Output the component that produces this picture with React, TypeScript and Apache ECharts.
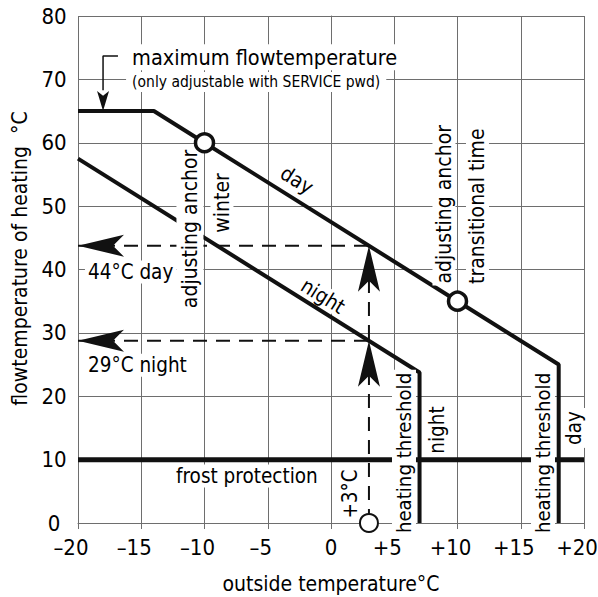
import React, { useEffect, useRef } from "react";
import * as echarts from "echarts";

const FONT = "'Liberation Sans Narrow', 'DejaVu Sans Condensed', 'DejaVu Sans', sans-serif";
const INK = "#111111";
const TEXT = "#000000";
const GRID = "#6e6e6e";

// curves (outside temperature °C -> flow temperature °C)
const dayOutside = [-20, -14, -10, 10, 18, 18];
const dayFlow = [65, 65, 60, 35, 25, 0];
const nightOutside = [-20, 7, 7];
const nightFlow = [57.5, 23.75, 0];
const frostOutside = [-20, 20];
const frostFlow = [10, 10];
const anchorOutside = [-10, 10];
const anchorFlow = [60, 35];
// worked example
const exampleOutside = 3;
const exampleDay = 43.75;
const exampleNight = 28.75;
// maximum flow temperature marker
const maxMarkerOutside = -18.02;
const maxMarkerFlow = [73.7, 68.3];
const maxFlow = 65;

type Note = {
  text: string;
  at: [number, number];
  rotate?: number;
  size: number;
  align?: "left" | "center";
  pad?: number | number[];
};
const notes: Note[] = [
  { text: "maximum flowtemperature", at: [-16.2, 73.5], size: 21.5, align: "left", pad: [2, 6] },
  { text: "(only adjustable with SERVICE pwd)", at: [-16.2, 69.6], size: 15.5, align: "left", pad: [2, 6] },
  { text: "day", at: [-2.69, 54.1], rotate: -32, size: 20.5, pad: 0 },
  { text: "night", at: [-0.63, 35.8], rotate: -32, size: 20.5, pad: 0 },
  { text: "adjusting anchor", at: [-11.15, 46.4], rotate: 90, size: 21, pad: [3, 2] },
  { text: "winter", at: [-8.62, 50.5], rotate: 90, size: 21, pad: [1, 3] },
  { text: "adjusting anchor", at: [8.93, 50.3], rotate: 90, size: 21, pad: [1, 2] },
  { text: "transitional time", at: [11.58, 50.0], rotate: 90, size: 21, pad: [1, 3] },
  { text: "44°C day", at: [-19.45, 39.6], size: 20.5, align: "left", pad: [1, 3] },
  { text: "29°C night", at: [-19.45, 24.9], size: 20.5, align: "left", pad: [1, 3] },
  { text: "frost protection", at: [-12.49, 7.4], size: 20.5, align: "left", pad: [1, 3] },
  { text: "+3°C", at: [1.5, 4.58], rotate: 90, size: 20.5, pad: [1, 3] },
  { text: "heating threshold", at: [5.77, 11.05], rotate: 90, size: 20.2, pad: [2, 3] },
  { text: "night", at: [8.38, 14.67], rotate: 90, size: 20.5, pad: [1, 3] },
  { text: "heating threshold", at: [16.76, 11.05], rotate: 90, size: 20.2, pad: [2, 3] },
  { text: "day", at: [19.2, 15.0], rotate: 90, size: 20.5, pad: [1, 3] },
];

const zip = (xs: number[], ys: number[]) => xs.map((x, i) => [x, ys[i]]);
const ARROW = "path://M12,0L24,46L12,35L0,46Z";

export default function App() {
  const ref = useRef<HTMLDivElement>(null);
  useEffect(() => {
    if (!ref.current) return;
    const chart = echarts.init(ref.current, undefined, { renderer: "svg" });
    const lineBase = { type: "line", symbol: "none", silent: true, z: 3 } as any;
    const dashed = { color: INK, width: 2, type: [14, 9] };
    chart.setOption({
      animation: false,
      backgroundColor: "#fff",
      grid: { left: 78, right: 14, top: 16, bottom: 74, outerBoundsMode: "none", containLabel: false },
      xAxis: {
        type: "value",
        min: -20,
        max: 20,
        interval: 5,
        name: "outside temperature°C",
        nameLocation: "middle",
        nameGap: 50,
        nameTextStyle: { fontFamily: FONT, fontSize: 21, color: TEXT },
        axisLine: { show: true, lineStyle: { color: GRID, width: 1 } },
        axisTick: { show: true, length: 6, lineStyle: { color: GRID } },
        splitLine: { show: true, lineStyle: { color: GRID, width: 1 } },
        axisLabel: {
          margin: 13,
          fontFamily: FONT,
          fontSize: 22,
          color: TEXT,
          formatter: (v: number) =>
            v === 0 ? "0" : `{s|${v > 0 ? "+" : "–"}${Math.abs(v)}}`,
          rich: { s: { fontFamily: FONT, fontSize: 22, color: TEXT, padding: [0, 14, 0, 0] } },
        },
      },
      yAxis: {
        type: "value",
        min: 0,
        max: 80,
        interval: 10,
        name: "flowtemperature of heating  °C",
        nameLocation: "middle",
        nameGap: 47,
        nameTextStyle: { fontFamily: FONT, fontSize: 21, color: TEXT, padding: [0, 0, 0, 22] },
        axisLine: { show: true, lineStyle: { color: GRID, width: 1 } },
        axisTick: { show: true, length: 6, lineStyle: { color: GRID } },
        splitLine: { show: true, lineStyle: { color: GRID, width: 1 } },
        axisLabel: { margin: 24, align: "center", fontFamily: FONT, fontSize: 22, color: TEXT },
      },
      series: [
        { ...lineBase, name: "day", data: zip(dayOutside, dayFlow), lineStyle: { color: INK, width: 4 } },
        { ...lineBase, name: "night", data: zip(nightOutside, nightFlow), lineStyle: { color: INK, width: 4 } },
        { ...lineBase, name: "frost protection", data: zip(frostOutside, frostFlow), lineStyle: { color: INK, width: 5 } },
        { ...lineBase, name: "44 day", data: [[-20, exampleDay], [exampleOutside, exampleDay]], lineStyle: dashed },
        { ...lineBase, name: "29 night", data: [[-20, exampleNight], [exampleOutside, exampleNight]], lineStyle: dashed },
        { ...lineBase, name: "+3", data: [[exampleOutside, 0], [exampleOutside, exampleDay]], lineStyle: dashed },
        {
          ...lineBase,
          name: "max marker",
          data: [[maxMarkerOutside + 1.18, maxMarkerFlow[0]], [maxMarkerOutside, maxMarkerFlow[0]], [maxMarkerOutside, maxMarkerFlow[1]]],
          lineStyle: { color: INK, width: 1.5 },
        },
        {
          type: "scatter",
          name: "arrows",
          silent: true,
          z: 5,
          symbol: ARROW,
          symbolSize: [22, 46],
          itemStyle: { color: INK, opacity: 1 },
          data: [
            { value: [-20, exampleDay], symbolRotate: 90, symbolOffset: [23, 0] },
            { value: [-20, exampleNight], symbolRotate: 90, symbolOffset: [23, 0] },
            { value: [exampleOutside, exampleDay], symbolRotate: 0, symbolOffset: [0, 23] },
            { value: [exampleOutside, exampleNight], symbolRotate: 0, symbolOffset: [0, 23] },
            { value: [maxMarkerOutside, maxFlow], symbolRotate: 180, symbolOffset: [0, -10], symbolSize: [12, 20] },
          ],
        },
      ],
    });

    const toPx = (p: number[]) => chart.convertToPixel({ gridIndex: 0 }, p) as number[];
    const noteEls = notes.map((n) => {
      const [x, y] = toPx(n.at);
      return {
        type: "text",
        x,
        y,
        rotation: ((n.rotate ?? 0) * Math.PI) / 180,
        z: 100,
        silent: true,
        style: {
          text: n.text,
          fontFamily: FONT,
          fontSize: n.size,
          fill: TEXT,
          align: n.align ?? "center",
          verticalAlign: "middle",
          backgroundColor: "#fff",
          padding: n.pad ?? 0,
        },
      };
    });
    const circle = (p: number[], r: number, w: number) => {
      const [cx, cy] = toPx(p);
      return {
        type: "circle",
        z: 110,
        silent: true,
        shape: { cx, cy, r },
        style: { fill: "#fff", stroke: INK, lineWidth: w },
      };
    };
    const circleEls = [
      ...zip(anchorOutside, anchorFlow).map((p) => circle(p, 9, 3.5)),
      circle([exampleOutside, 0], 9, 2),
    ];
    chart.setOption({ graphic: { elements: [...noteEls, ...circleEls] } });
    return () => chart.dispose();
  }, []);
  return <div ref={ref} style={{ width: 598, height: 597, position: "absolute", left: 0, top: 0 }} />;
}
